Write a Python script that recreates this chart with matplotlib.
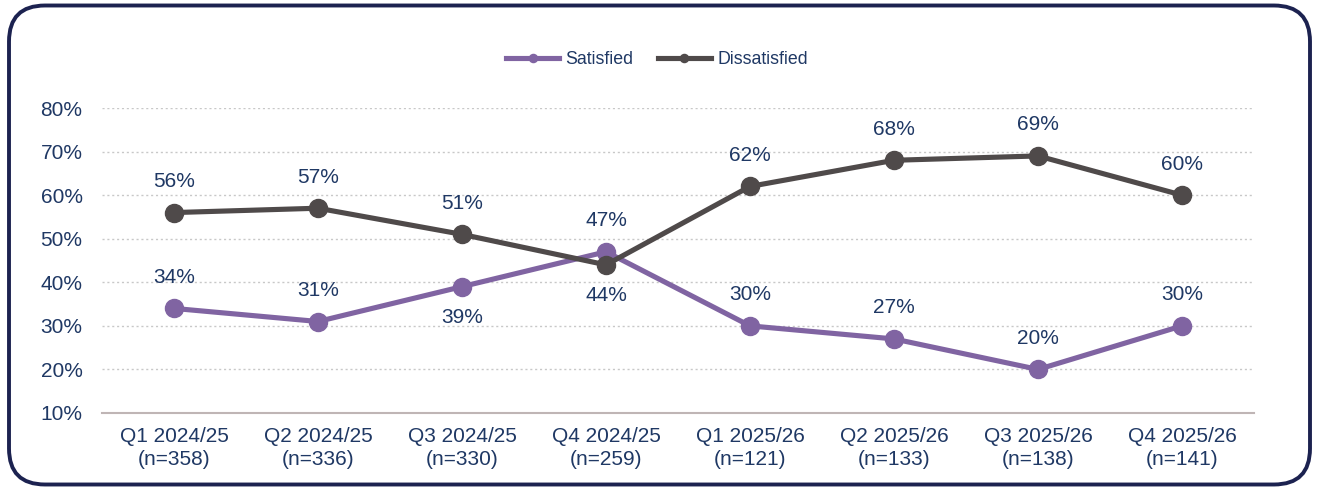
import matplotlib.pyplot as plt
from matplotlib.patches import FancyBboxPatch
from matplotlib.ticker import FuncFormatter

quarters = ['Q1 2024/25\n(n=358)', 'Q2 2024/25\n(n=336)', 'Q3 2024/25\n(n=330)',
            'Q4 2024/25\n(n=259)', 'Q1 2025/26\n(n=121)', 'Q2 2025/26\n(n=133)',
            'Q3 2025/26\n(n=138)', 'Q4 2025/26\n(n=141)']
satisfied = [34, 31, 39, 47, 30, 27, 20, 30]
dissatisfied = [56, 57, 51, 44, 62, 68, 69, 60]
# label above (+1) or below (-1) the point
sat_pos = [1, 1, -1, 1, 1, 1, 1, 1]
dis_pos = [1, 1, 1, -1, 1, 1, 1, 1]

purple = '#8064a2'
grey = '#4f4a4a'
navy = '#1f3864'

plt.rcParams['font.family'] = ['Liberation Sans', 'DejaVu Sans']

fig = plt.figure(figsize=(13.17, 4.88), dpi=100)
ax = fig.add_axes([102 / 1317, 1 - 413 / 488, (1254 - 102) / 1317, (413 - 108) / 488])

# rounded frame round the chart, in inches
frame = FancyBboxPatch((0.09, 0.035), 13.01, 4.79,
                       boxstyle='round,pad=0,rounding_size=0.36',
                       transform=fig.dpi_scale_trans, fill=False,
                       edgecolor='#1c2250', linewidth=2.8)
fig.patches.append(frame)

x = list(range(len(quarters)))
ax.plot(x, satisfied, color=purple, lw=3.7, marker='o', ms=13, label='Satisfied', zorder=3)
ax.plot(x, dissatisfied, color=grey, lw=3.7, marker='o', ms=13, label='Dissatisfied', zorder=4)

for i in x:
    ax.annotate(f'{satisfied[i]}%', (i, satisfied[i]), xytext=(0, 31 * sat_pos[i]),
                textcoords='offset pixels', ha='center', va='center', fontsize=15, color=navy)
    ax.annotate(f'{dissatisfied[i]}%', (i, dissatisfied[i]), xytext=(0, 31 * dis_pos[i]),
                textcoords='offset pixels', ha='center', va='center', fontsize=15, color=navy)

ax.set_xlim(-0.5, 7.5)
ax.set_ylim(10, 80)
ax.set_yticks(range(10, 81, 10))
ax.yaxis.set_major_formatter(FuncFormatter(lambda v, p: f'{v:.0f}%'))
ax.set_xticks(x)
ax.set_xticklabels(quarters, linespacing=1.3)
ax.tick_params(length=0, labelsize=15, labelcolor=navy, pad=10)
ax.tick_params(axis='y', pad=14)
for sp in ['top', 'right', 'left']:
    ax.spines[sp].set_visible(False)
ax.spines['bottom'].set_color('#bfb5b5')
ax.spines['bottom'].set_linewidth(1.5)
ax.grid(axis='y', color='#c8c8c8', linestyle=(0, (1.5, 2)), linewidth=1)
ax.set_axisbelow(True)

leg = fig.legend(loc='center', bbox_to_anchor=(657 / 1317, 1 - 60 / 488), ncol=2,
                 frameon=False, fontsize=12.8, markerscale=0.45, handlelength=3.0,
                 columnspacing=1.35, handletextpad=0.35)
for t in leg.get_texts():
    t.set_color(navy)

fig.savefig('out.png', dpi=100)
